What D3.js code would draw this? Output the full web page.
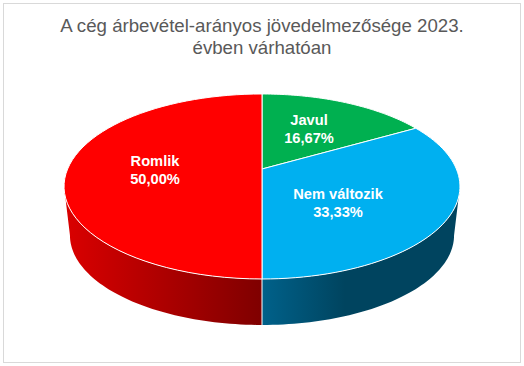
<!DOCTYPE html>
<html>
<head>
<meta charset="utf-8">
<script src="https://cdn.jsdelivr.net/npm/d3@7"></script>
<style>
  html, body { margin: 0; padding: 0; background: #fff; }
  text { font-family: "Liberation Sans", Arial, sans-serif; }
</style>
</head>
<body>
<script>
const categories = ['Javul', 'Nem változik', 'Romlik']
const shares = [16.67, 33.33, 50.00]
const shareLabels = ['16,67%', '33,33%', '50,00%']
const titleLines = ['A cég árbevétel-arányos jövedelmezősége 2023.', 'évben várhatóan']

const width = 524
const height = 366

const topColors = ['#00b050', '#00b0f0', '#ff0000']
const wallStops = [
  null,
  [[262, '#00618a'], [345, '#00445f'], [455, '#00445f']],
  [[70, '#d80000'], [262, '#7f0000']]
]
const labelPos = [[309, 125], [338, 199], [155, 166]]

// the pie is a tilted disc seen in perspective: the far half is squeezed
const perspective = 0.189
const topRim = { x0: 262, y0: 169, a: 194.4, b: 89.2 }
const bottomRim = { x0: 262, y0: 218.3, a: 188.6, b: 86.5 }

const project = (rim, angle) => {
  const w = 1 + perspective * Math.cos(angle)
  return [rim.x0 + rim.a * Math.sin(angle) / w, rim.y0 - rim.b * Math.cos(angle) / w]
}

const rimPoints = (rim, from, to) => d3.range(0, 61)
  .map(i => project(rim, from + (to - from) * i / 60))

const line = d3.line()

const svg = d3.select('body').append('svg')
  .attr('width', width)
  .attr('height', height)
  .style('display', 'block')

svg.append('rect')
  .attr('x', 3.5)
  .attr('y', 3.5)
  .attr('width', 517)
  .attr('height', 359)
  .attr('fill', '#fff')
  .attr('stroke', '#d9d9d9')

const pie = d3.pie().sort(null)
const slices = pie(shares)

const defs = svg.append('defs')
wallStops.forEach((stops, i) => {
  if (!stops) return
  const grad = defs.append('linearGradient')
    .attr('id', `wall${i}`)
    .attr('gradientUnits', 'userSpaceOnUse')
    .attr('x1', stops[0][0])
    .attr('x2', stops[stops.length - 1][0])
    .attr('y1', 0)
    .attr('y2', 0)
  const span = stops[stops.length - 1][0] - stops[0][0]
  stops.forEach(s => {
    grad.append('stop')
      .attr('offset', (s[0] - stops[0][0]) / span)
      .attr('stop-color', s[1])
  })
})

// side walls, only the part of each slice on the near side of the disc
const wallStart = Math.PI / 2 + 0.19
const wallEnd = 3 * Math.PI / 2 - 0.19

slices.forEach((d, i) => {
  const from = Math.max(d.startAngle, wallStart)
  const to = Math.min(d.endAngle, wallEnd)
  if (from >= to) return
  const pts = rimPoints(topRim, from, to).concat(rimPoints(bottomRim, from, to).reverse())
  svg.append('path')
    .attr('d', line(pts) + 'Z')
    .attr('fill', `url(#wall${i})`)
})

// white seam where the two walls meet at the front
const seamAngle = slices[2].startAngle
svg.append('path')
  .attr('d', line([project(topRim, seamAngle), project(bottomRim, seamAngle)]))
  .attr('stroke', '#fff')
  .attr('stroke-width', 1)

svg.selectAll('.slice')
  .data(slices)
  .enter().append('path')
  .attr('class', 'slice')
  .attr('d', d => line([[topRim.x0, topRim.y0]].concat(rimPoints(topRim, d.startAngle, d.endAngle))) + 'Z')
  .attr('fill', (d, i) => topColors[i])
  .attr('stroke', '#fff')
  .attr('stroke-width', 1)
  .attr('stroke-linejoin', 'round')

const labels = svg.selectAll('.label')
  .data(categories)
  .enter().append('text')
  .attr('class', 'label')
  .attr('text-anchor', 'middle')
  .attr('fill', '#fff')
  .style('font-size', '14.67px')
  .style('font-weight', 'bold')

labels.append('tspan')
  .attr('x', (d, i) => labelPos[i][0])
  .attr('y', (d, i) => labelPos[i][1])
  .text(d => d)

labels.append('tspan')
  .attr('x', (d, i) => labelPos[i][0])
  .attr('y', (d, i) => labelPos[i][1] + 17.5)
  .text((d, i) => shareLabels[i])

svg.selectAll('.title')
  .data(titleLines)
  .enter().append('text')
  .attr('class', 'title')
  .attr('x', 262)
  .attr('y', (d, i) => 32 + i * 21.5)
  .attr('text-anchor', 'middle')
  .attr('fill', '#595959')
  .style('font-size', '18.67px')
  .text(d => d)
</script>
</body>
</html>
